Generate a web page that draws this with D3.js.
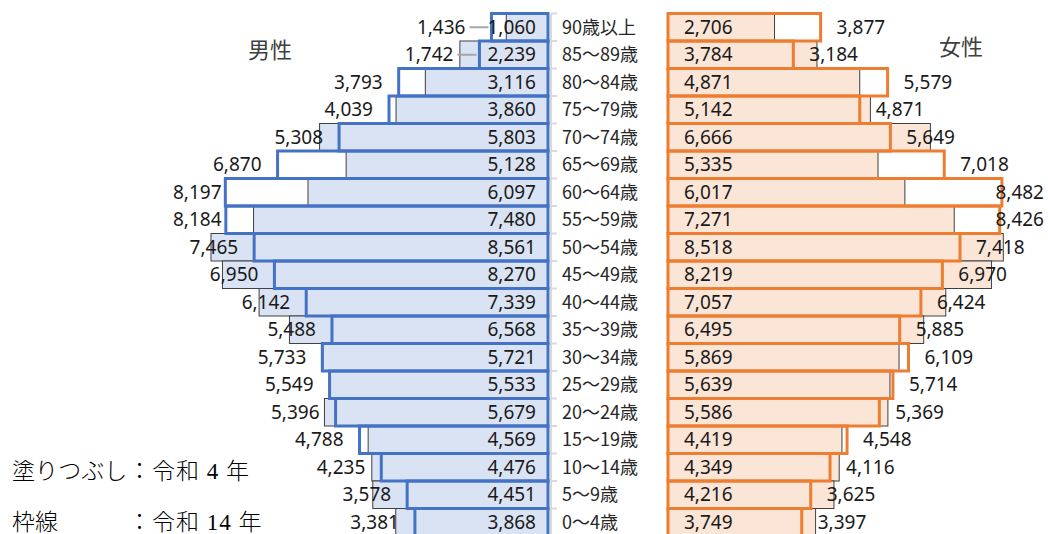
<!DOCTYPE html>
<html>
<head>
<meta charset="utf-8">
<script src="https://cdn.jsdelivr.net/npm/d3@7"></script>
<style>
  body { margin: 0; background: #fff; }
  svg { display: block; }
</style>
</head>
<body>
<div id="pyramid"></div>
<script>
// 年齢階級（上から）
const ages = ["90歳以上", "85～89歳", "80～84歳", "75～79歳", "70～74歳", "65～69歳",
   "60～64歳", "55～59歳", "50～54歳", "45～49歳", "40～44歳", "35～39歳", "30～34歳",
   "25～29歳", "20～24歳", "15～19歳", "10～14歳", "5～9歳", "0～4歳"];

// 塗りつぶし：令和4年
const maleR4 = [1060, 2239, 3116, 3860, 5803, 5128, 6097, 7480, 8561, 8270, 7339, 6568, 5721, 5533, 5679, 4569, 4476, 4451, 3868];
const femaleR4 = [2706, 3784, 4871, 5142, 6666, 5335, 6017, 7271, 8518, 8219, 7057, 6495, 5869, 5639, 5586, 4419, 4349, 4216, 3749];

// 枠線：令和14年
const maleR14 = [1436, 1742, 3793, 4039, 5308, 6870, 8197, 8184, 7465, 6950, 6142, 5488, 5733, 5549, 5396, 4788, 4235, 3578, 3381];
const femaleR14 = [3877, 3184, 5579, 4871, 5649, 7018, 8482, 8426, 7418, 6970, 6424, 5885, 6109, 5714, 5369, 4548, 4116, 3625, 3397];

// ラベルを引出線付きで外に出した階級
const leaderRows = ["90歳以上", "85～89歳"];

const legendRows = [["塗りつぶし", "：令和 4 年"], ["枠線", "：令和 14 年"]];

const width = 1048, height = 534;
const maleAxis = 548, femaleAxis = 668;
const numFont = "'Noto Sans', 'Noto Sans CJK JP', sans-serif";
const jpFont = "'Noto Sans CJK JP', sans-serif";

const rows = ages.map((a, i) => ({
   age: a,
   mR4: maleR4[i], mR14: maleR14[i],
   fR4: femaleR4[i], fR14: femaleR14[i]
}));

const svg = d3.select("#pyramid")
   .append("svg")
   .attr("width", width)
   .attr("height", height);

const xScale = d3.scaleLinear().domain([0, 8500]).range([0, 334.6]);
const yScale = d3.scaleBand().domain(ages).range([13.5, 536]).padding(0);
const bh = yScale.bandwidth();
const mid = (d) => yScale(d.age) + bh / 2;

// 中央の軸線と目盛
const axisG = svg.append("g");
axisG.append("line")
   .attr("x1", 551).attr("x2", 551)
   .attr("y1", yScale.range()[0]).attr("y2", yScale.range()[1])
   .attr("stroke", "#d9d9d9").attr("stroke-width", 2);
axisG.selectAll(".tick")
   .data(ages.concat(["end"]))
   .enter()
   .append("line")
   .attr("x1", 551).attr("x2", 557)
   .attr("y1", (d, i) => yScale.range()[0] + i * bh)
   .attr("y2", (d, i) => yScale.range()[0] + i * bh)
   .attr("stroke", "#d9d9d9").attr("stroke-width", 2);

// 令和4年（塗りつぶし）
svg.append("g").selectAll("rect")
   .data(rows)
   .enter()
   .append("rect")
   .attr("x", (d) => maleAxis - xScale(d.mR4))
   .attr("y", (d) => yScale(d.age))
   .attr("width", (d) => xScale(d.mR4))
   .attr("height", bh)
   .attr("fill", "#dae3f3")
   .attr("stroke", "#404040")
   .attr("stroke-width", 1);

svg.append("g").selectAll("rect")
   .data(rows)
   .enter()
   .append("rect")
   .attr("x", femaleAxis)
   .attr("y", (d) => yScale(d.age))
   .attr("width", (d) => xScale(d.fR4))
   .attr("height", bh)
   .attr("fill", "#fbe5d6")
   .attr("stroke", "#404040")
   .attr("stroke-width", 1);

// 令和14年（枠線）
svg.append("g").selectAll("rect")
   .data(rows)
   .enter()
   .append("rect")
   .attr("x", (d) => maleAxis - xScale(d.mR14))
   .attr("y", (d) => yScale(d.age))
   .attr("width", (d) => xScale(d.mR14))
   .attr("height", bh)
   .attr("fill", "none")
   .attr("stroke", "#4472c4")
   .attr("stroke-width", 3);

svg.append("g").selectAll("rect")
   .data(rows)
   .enter()
   .append("rect")
   .attr("x", femaleAxis)
   .attr("y", (d) => yScale(d.age))
   .attr("width", (d) => xScale(d.fR14))
   .attr("height", bh)
   .attr("fill", "none")
   .attr("stroke", "#ed7d31")
   .attr("stroke-width", 3);

// 年齢階級ラベル
svg.append("g").selectAll("text")
   .data(rows)
   .enter()
   .append("text")
   .attr("x", 562)
   .attr("y", mid)
   .attr("dy", "0.35em")
   .style("font-family", jpFont)
   .style("font-size", "18px")
   .attr("fill", "#262626")
   .text((d) => d.age);

const fmt = d3.format(",");

// 内側ラベル（令和4年）
svg.append("g").selectAll("text")
   .data(rows)
   .enter()
   .append("text")
   .attr("x", maleAxis - 12)
   .attr("y", mid)
   .attr("dy", "0.35em")
   .style("text-anchor", "end")
   .style("font-family", numFont)
   .style("font-size", "19px")
   .attr("fill", "#1a1a1a")
   .text((d) => fmt(d.mR4));

svg.append("g").selectAll("text")
   .data(rows)
   .enter()
   .append("text")
   .attr("x", femaleAxis + 16)
   .attr("y", mid)
   .attr("dy", "0.35em")
   .style("font-family", numFont)
   .style("font-size", "19px")
   .attr("fill", "#1a1a1a")
   .text((d) => fmt(d.fR4));

// 外側ラベル（令和14年）
const outM = svg.append("g").selectAll("text")
   .data(rows)
   .enter()
   .append("text")
   .attr("y", mid)
   .attr("dy", "0.35em")
   .style("text-anchor", "end")
   .style("font-family", numFont)
   .style("font-size", "19px")
   .attr("fill", "#1a1a1a")
   .text((d) => fmt(d.mR14));

outM.each(function (d) {
   const w = this.getComputedTextLength();
   const barEnd = maleAxis - xScale(d.mR14);
   let x = leaderRows.includes(d.age) ? barEnd - 26 : barEnd - 16;
   if (x - w < 173) x = 173 + w;
   d3.select(this).attr("x", x);
   if (leaderRows.includes(d.age)) {
      svg.append("line")
         .attr("x1", x + 4).attr("x2", barEnd - 3)
         .attr("y1", mid(d)).attr("y2", mid(d))
         .attr("stroke", "#a6a6a6").attr("stroke-width", 2);
   }
});

const outF = svg.append("g").selectAll("text")
   .data(rows)
   .enter()
   .append("text")
   .attr("y", mid)
   .attr("dy", "0.35em")
   .style("font-family", numFont)
   .style("font-size", "19px")
   .attr("fill", "#1a1a1a")
   .text((d) => fmt(d.fR14));

outF.each(function (d) {
   const w = this.getComputedTextLength();
   let x = femaleAxis + xScale(d.fR14) + 16;
   if (x + w > 1044) x = 1044 - w;
   d3.select(this).attr("x", x);
});

// 男性・女性
svg.append("text")
   .attr("x", 270).attr("y", 50)
   .attr("dy", "0.35em")
   .style("text-anchor", "middle")
   .style("font-family", jpFont)
   .style("font-size", "22px")
   .attr("fill", "#404040")
   .text("男性");

svg.append("text")
   .attr("x", 961).attr("y", 47)
   .attr("dy", "0.35em")
   .style("text-anchor", "middle")
   .style("font-family", jpFont)
   .style("font-size", "22px")
   .attr("fill", "#404040")
   .text("女性");

// 凡例
const leg = svg.append("g").selectAll("g")
   .data(legendRows)
   .enter()
   .append("g")
   .attr("transform", (d, i) => "translate(12," + (471 + i * 51) + ")");

leg.append("text")
   .attr("dy", "0.35em")
   .style("font-family", "'Liberation Serif', 'Noto Sans CJK JP', serif")
   .style("font-size", "23px")
   .style("font-weight", "300")
   .attr("fill", "#000")
   .text((d) => d[0]);

leg.append("text")
   .attr("x", 116)
   .attr("dy", "0.35em")
   .style("font-family", "'Liberation Serif', 'Noto Sans CJK JP', serif")
   .style("font-size", "23px")
   .style("font-weight", "300")
   .style("letter-spacing", "1px")
   .attr("fill", "#000")
   .text((d) => d[1]);
</script>
</body>
</html>
